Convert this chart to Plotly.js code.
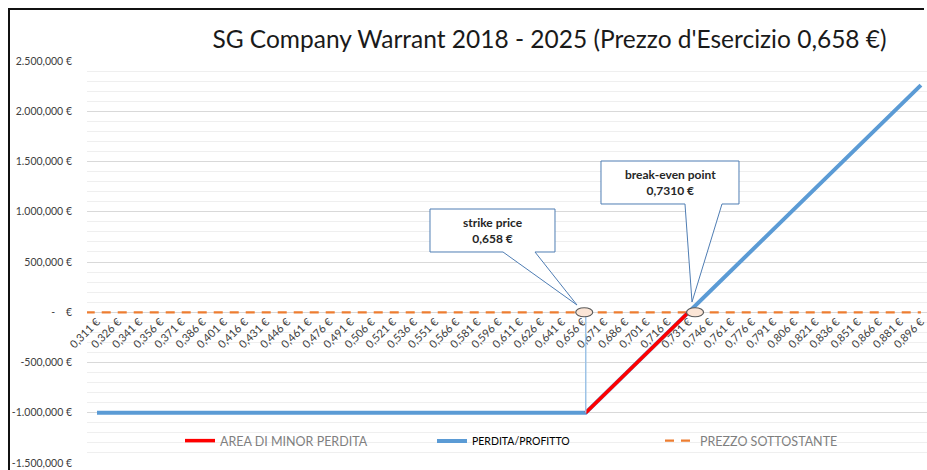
<!DOCTYPE html>
<html><head><meta charset="utf-8">
<script src="https://cdn.plot.ly/plotly-3.0.1.min.js"></script>
<style>
html,body{margin:0;padding:0;background:#fff;}
#chart{width:927px;height:470px;}
#frame{position:absolute;left:8px;top:8px;width:914px;height:470px;border-top:2px solid #111;border-left:2px solid #111;pointer-events:none;}
</style>
</head><body>
<div id="chart"></div><div id="frame"></div>
<script>
// ---- data ----
const tickPrices = [0.311,0.326,0.341,0.356,0.371,0.386,0.401,0.416,0.431,0.446,0.461,0.476,0.491,0.506,0.521,0.536,0.551,0.566,0.581,0.596,0.611,0.626,0.641,0.656,0.671,0.686,0.701,0.716,0.731,0.746,0.761,0.776,0.791,0.806,0.821,0.836,0.851,0.866,0.881,0.896];
const tickLabels = ['0,311 €','0,326 €','0,341 €','0,356 €','0,371 €','0,386 €','0,401 €','0,416 €','0,431 €','0,446 €','0,461 €','0,476 €','0,491 €','0,506 €','0,521 €','0,536 €','0,551 €','0,566 €','0,581 €','0,596 €','0,611 €','0,626 €','0,641 €','0,656 €','0,671 €','0,686 €','0,701 €','0,716 €','0,731 €','0,746 €','0,761 €','0,776 €','0,791 €','0,806 €','0,821 €','0,836 €','0,851 €','0,866 €','0,881 €','0,896 €'];

// PERDITA/PROFITTO (profit/loss) breakpoints
const plPrice = [0.311, 0.658, 0.896];
const plValue = [-1000000, -1000000, 2260000];
// AREA DI MINOR PERDITA
const lossPrice = [0.658, 0.731];
const lossValue = [-1000000, 0];
// PREZZO SOTTOSTANTE
const underPrice = [0.303, 0.896];
const underValue = [0, 0];

const strikePrice = 0.658;
const breakEven = 0.731;

const yTicks = [-1500000,-1000000,-500000,0,500000,1000000,1500000,2000000,2500000];
const yTickText = ['-1.500,000 €','-1.000,000 €','-500,000 €','-\u00a0\u00a0\u00a0\u00a0€','500,000 €','1.000,000 €','1.500,000 €','2.000,000 €','2.500,000 €'];

// ---- layout helpers (pixel -> paper) ----
const L = 87, T = 61, W = 840, H = 402;
const px = x => (x - L) / W;
const py = y => (T + H - y) / H;
const path = pts => 'M' + pts.map(p => px(p[0]).toFixed(5) + ',' + py(p[1]).toFixed(5)).join(' L') + ' Z';

const FONT = 'Lato, "Open Sans", sans-serif';

const traces = [
  {x: underPrice, y: underValue, mode: 'lines', name: 'PREZZO SOTTOSTANTE', legend: 'legend3',
   line: {color: '#ED7D31', width: 2.25, dash: '9px,7px'}, hoverinfo: 'skip'},
  {x: plPrice, y: plValue, mode: 'lines', name: 'PERDITA/PROFITTO', legend: 'legend2',
   line: {color: '#5B9BD5', width: 4}, hoverinfo: 'skip'},
  {x: lossPrice, y: lossValue, mode: 'lines', name: 'AREA DI MINOR PERDITA', legend: 'legend',
   line: {color: '#FF0000', width: 3.5}, hoverinfo: 'skip'}
];

const calloutStyle = {type: 'path', xref: 'paper', yref: 'paper', fillcolor: '#ffffff', line: {color: '#4F7DB3', width: 1}, layer: 'above'};

const layout = {
  width: 927, height: 470,
  paper_bgcolor: '#ffffff', plot_bgcolor: '#ffffff',
  margin: {l: L, r: 0, t: T, b: 470 - T - H},
  title: {text: "SG Company Warrant 2018 - 2025 (Prezzo d'Esercizio 0,658 €)",
    font: {family: FONT, size: 24.5, color: '#1a1a1a'},
    xref: 'container', x: 549.5 / 927, xanchor: 'center',
    yref: 'container', y: 1 - 39.5 / 470, yanchor: 'middle'},
  xaxis: {range: [0.3039, 0.9003], anchor: 'free', position: 0.375,
    tickmode: 'array', tickvals: tickPrices, ticktext: tickLabels, tickangle: -45,
    showgrid: false, zeroline: false, showline: false, ticks: '',
    tickfont: {family: FONT, size: 11, color: '#404040'}, automargin: false, fixedrange: true},
  yaxis: {range: [-1500000, 2500000], tickmode: 'array', tickvals: yTicks, ticktext: yTickText,
    showgrid: true, gridcolor: '#d9d9d9', gridwidth: 1, zeroline: false, showline: false, ticks: '',
    minor: {tickmode: 'linear', tick0: 0, dtick: 100000, showgrid: true, gridcolor: '#efefef', gridwidth: 1, ticks: ''},
    ticklabelstandoff: 14,
    tickfont: {family: FONT, size: 10.5, color: '#404040'}, automargin: false, fixedrange: true},
  showlegend: true,
  legend: {x: px(180), xanchor: 'left', y: py(441), yanchor: 'middle', orientation: 'h', bgcolor: 'rgba(0,0,0,0)',
    itemwidth: 30, font: {family: FONT, size: 12.5, color: '#7f7f7f'}},
  legend2: {x: px(432), xanchor: 'left', y: py(441), yanchor: 'middle', orientation: 'h', bgcolor: 'rgba(0,0,0,0)',
    itemwidth: 30, font: {family: FONT, size: 10.5, color: '#000000'}},
  legend3: {x: px(660), xanchor: 'left', y: py(441), yanchor: 'middle', orientation: 'h', bgcolor: 'rgba(0,0,0,0)',
    itemwidth: 30, font: {family: FONT, size: 12.5, color: '#7f7f7f'}},
  shapes: [
    // drop line at strike
    {type: 'line', xref: 'x', yref: 'y', x0: strikePrice, x1: strikePrice, y0: 0, y1: -1000000,
     line: {color: '#9DC3E6', width: 1.5}, layer: 'above'},
    // callouts
    Object.assign({path: path([[430,209],[555,209],[555,252],[535,252],[577,305],[503,252],[430,252]])}, calloutStyle),
    Object.assign({path: path([[601,161],[739,161],[739,204],[722,204],[692,302],[685,204],[601,204]])}, calloutStyle),
    // markers on the zero line
    {type: 'circle', xref: 'x', yref: 'y', xsizemode: 'pixel', ysizemode: 'pixel',
     xanchor: strikePrice, yanchor: 0, x0: -10, x1: 7, y0: -4.5, y1: 4.5,
     fillcolor: '#FBE5D6', line: {color: '#595959', width: 1.2}, layer: 'above'},
    {type: 'circle', xref: 'x', yref: 'y', xsizemode: 'pixel', ysizemode: 'pixel',
     xanchor: breakEven, yanchor: 0, x0: -2, x1: 15, y0: -4.5, y1: 4.5,
     fillcolor: '#FBE5D6', line: {color: '#595959', width: 1.2}, layer: 'above'}
  ],
  annotations: [
    {xref: 'paper', yref: 'paper', x: px(492.5), y: py(231), xanchor: 'center', yanchor: 'middle',
     text: '<b>strike price</b><br><b>0,658 €</b>', showarrow: false,
     font: {family: FONT, size: 12, color: '#262626'}},
    {xref: 'paper', yref: 'paper', x: px(670), y: py(182.5), xanchor: 'center', yanchor: 'middle',
     text: '<b>break-even point</b><br><b>0,7310 €</b>', showarrow: false,
     font: {family: FONT, size: 12, color: '#262626'}}
  ]
};

Plotly.newPlot('chart', traces, layout, {displayModeBar: false, staticPlot: true});
</script>
</body></html>
